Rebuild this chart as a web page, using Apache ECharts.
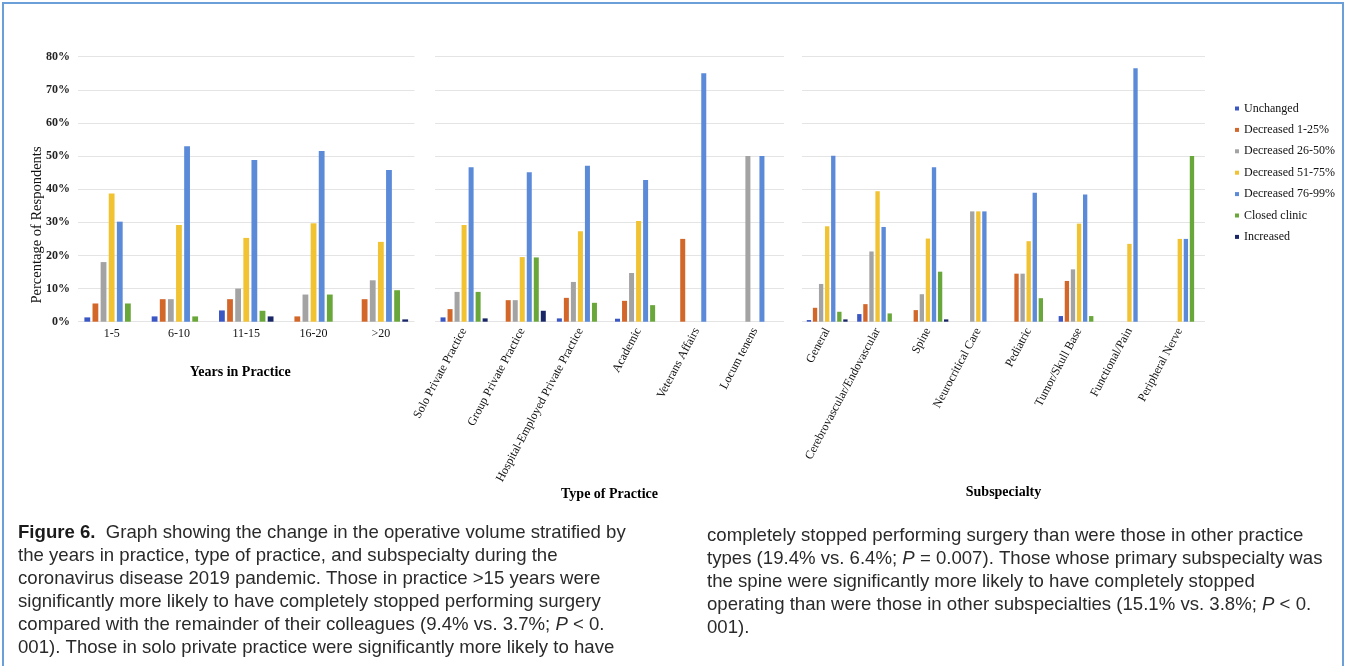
<!DOCTYPE html>
<html>
<head>
<meta charset="utf-8">
<title>Figure 6 – Change in operative volume</title>
<script src="https://cdn.jsdelivr.net/npm/echarts@6/dist/echarts.min.js"></script>
<style>
  html, body { margin: 0; padding: 0; background: #ffffff; }
  #chart { width: 1346px; height: 666px; }
</style>
</head>
<body>
<div id="chart"></div>
<script>
// Response categories (legend order)
const seriesNames = ['Unchanged', 'Decreased 1-25%', 'Decreased 26-50%', 'Decreased 51-75%',
                     'Decreased 76-99%', 'Closed clinic', 'Increased'];
const seriesColors = ['#3a57c4', '#d3672a', '#a3a3a3', '#f1c232', '#5b8ad8', '#6aa73a', '#1a2766'];

// Percentage axis ticks
const yTicks = [0, 10, 20, 30, 40, 50, 60, 70, 80];

// Panel 1: years in practice
const yearsCategories = ['1-5', '6-10', '11-15', '16-20', '>20'];
const yearsUnchanged = [1.3, 1.6, 3.4, 0, 0];
const yearsDec1to25 = [5.5, 6.8, 6.8, 1.6, 6.8];
const yearsDec26to50 = [18.0, 6.8, 10.0, 8.2, 12.5];
const yearsDec51to75 = [38.7, 29.2, 25.3, 29.7, 24.1];
const yearsDec76to99 = [30.2, 53.0, 48.8, 51.5, 45.8];
const yearsClosed = [5.5, 1.6, 3.3, 8.2, 9.5];
const yearsIncreased = [0, 0, 1.6, 0, 0.7];

// Panel 2: type of practice
const practiceCategories = ['Solo Private Practice', 'Group Private Practice',
  'Hospital-Employed Private Practice', 'Academic', 'Veterans Affairs', 'Locum tenens'];
const practiceUnchanged = [1.3, 0, 1.0, 0.9, 0, 0];
const practiceDec1to25 = [3.8, 6.5, 7.2, 6.3, 25.0, 0];
const practiceDec26to50 = [9.0, 6.5, 12.0, 14.7, 0, 50.0];
const practiceDec51to75 = [29.2, 19.5, 27.3, 30.4, 0, 0];
const practiceDec76to99 = [46.6, 45.1, 47.1, 42.8, 75.0, 50.0];
const practiceClosed = [9.0, 19.4, 5.7, 5.0, 0, 0];
const practiceIncreased = [1.0, 3.3, 0, 0, 0, 0];

// Panel 3: subspecialty
const subspecialtyCategories = ['General', 'Cerebrovascular/Endovascular', 'Spine', 'Neurocritical Care',
  'Pediatric', 'Tumor/Skull Base', 'Functional/Pain', 'Peripheral Nerve'];
const subUnchanged = [0.5, 2.3, 0, 0, 0, 1.7, 0, 0];
const subDec1to25 = [4.2, 5.3, 3.5, 0, 14.5, 12.3, 0, 0];
const subDec26to50 = [11.4, 21.2, 8.3, 33.3, 14.5, 15.8, 0, 0];
const subDec51to75 = [28.8, 39.4, 25.1, 33.3, 24.3, 29.6, 23.5, 25.0];
const subDec76to99 = [50.1, 28.6, 46.6, 33.3, 38.9, 38.4, 76.5, 25.0];
const subClosed = [3.0, 2.5, 15.1, 0, 7.1, 1.7, 0, 50.0];
const subIncreased = [0.7, 0, 0.7, 0, 0, 0, 0, 0];

// Caption lines (two columns)
const captionLeft = [
  '{b|Figure 6.}  Graph showing the change in the operative volume stratified by',
  'the years in practice, type of practice, and subspecialty during the',
  'coronavirus disease 2019 pandemic. Those in practice >15 years were',
  'significantly more likely to have completely stopped performing surgery',
  'compared with the remainder of their colleagues (9.4% vs. 3.7%; {i|P} < 0.',
  '001). Those in solo private practice were significantly more likely to have'
];
const captionRight = [
  'completely stopped performing surgery than were those in other practice',
  'types (19.4% vs. 6.4%; {i|P} = 0.007). Those whose primary subspecialty was',
  'the spine were significantly more likely to have completely stopped',
  'operating than were those in other subspecialties (15.1% vs. 3.8%; {i|P} < 0.',
  '001).'
];

const panels = [
  { cats: yearsCategories, title: 'Years in Practice',
    data: [yearsUnchanged, yearsDec1to25, yearsDec26to50, yearsDec51to75, yearsDec76to99, yearsClosed, yearsIncreased] },
  { cats: practiceCategories, title: 'Type of Practice',
    data: [practiceUnchanged, practiceDec1to25, practiceDec26to50, practiceDec51to75, practiceDec76to99, practiceClosed, practiceIncreased] },
  { cats: subspecialtyCategories, title: 'Subspecialty',
    data: [subUnchanged, subDec1to25, subDec26to50, subDec51to75, subDec76to99, subClosed, subIncreased] }
];

const SERIF = '"Liberation Serif", "Times New Roman", serif';
const SANS = '"Liberation Sans", Arial, sans-serif';
const CAPTION_SIZE = 18.6;
const CAPTION_LEADING = 23;

const grids = [
  { left: 78, top: 56.7, width: 336.5, height: 265 },
  { left: 435, top: 56.7, width: 349, height: 265 },
  { left: 802, top: 56.7, width: 403, height: 265 }
];

const xAxes = panels.map((p, i) => ({
  type: 'category',
  gridIndex: i,
  data: p.cats,
  axisLine: { show: false },
  axisTick: { show: false },
  axisLabel: {
    interval: 0,
    rotate: i === 0 ? 0 : 62,
    margin: i === 0 ? 6 : 7,
    fontFamily: SERIF,
    fontSize: 12,
    color: '#111'
  },
  name: p.title,
  nameLocation: 'middle',
  nameGap: i === 0 ? 44 : 164,
  nameTextStyle: {
    fontFamily: SERIF,
    fontSize: 14,
    fontWeight: 'bold',
    color: '#000',
    padding: i === 0 ? [0, 12, 0, 0] : [0, 0, 0, 0]
  }
}));

const yAxes = panels.map((p, i) => ({
  type: 'value',
  gridIndex: i,
  min: yTicks[0],
  max: yTicks[yTicks.length - 1],
  interval: 10,
  axisLine: { show: false },
  axisTick: { show: false },
  axisLabel: {
    show: i === 0,
    formatter: '{value}%',
    margin: 8,
    fontFamily: SERIF,
    fontSize: 12,
    fontWeight: 'bold',
    color: '#222'
  },
  splitLine: { lineStyle: { color: '#e4e4e4', width: 1 } }
}));

const series = [];
panels.forEach((p, pi) => {
  p.data.forEach((vals, si) => {
    series.push({
      type: 'bar',
      name: seriesNames[si],
      xAxisIndex: pi,
      yAxisIndex: pi,
      data: vals,
      barGap: '40%',
      barCategoryGap: '19%',
      itemStyle: { color: seriesColors[si] },
      emphasis: { disabled: true }
    });
  });
});

const captionStyle = (text) => ({
  text: text,
  fontFamily: SANS,
  fontSize: CAPTION_SIZE,
  fill: '#2a2a2a',
  verticalAlign: 'middle',
  rich: {
    b: { fontFamily: SANS, fontSize: CAPTION_SIZE, fontWeight: 'bold', fill: '#1a1a1a' },
    i: { fontFamily: SANS, fontSize: CAPTION_SIZE, fontStyle: 'italic', fill: '#2a2a2a' }
  }
});

const graphics = [
  {
    type: 'rect', silent: true,
    shape: { x: 3, y: 3, width: 1340, height: 720 },
    style: { fill: 'none', stroke: '#6a9fd8', lineWidth: 2 }
  },
  {
    type: 'text', silent: true,
    x: 36.7, y: 225, rotation: Math.PI / 2,
    style: {
      text: 'Percentage of Respondents',
      fontFamily: SERIF, fontSize: 14.5, fill: '#111',
      align: 'center', verticalAlign: 'middle'
    }
  }
];
captionLeft.forEach((line, k) => {
  graphics.push({ type: 'text', silent: true, x: 18, y: 533 + CAPTION_LEADING * k, style: captionStyle(line) });
});
captionRight.forEach((line, k) => {
  graphics.push({ type: 'text', silent: true, x: 707, y: 536 + CAPTION_LEADING * k, style: captionStyle(line) });
});

const chart = echarts.init(document.getElementById('chart'), null, { renderer: 'canvas' });
chart.setOption({
  animation: false,
  backgroundColor: '#ffffff',
  grid: grids,
  xAxis: xAxes,
  yAxis: yAxes,
  legend: {
    data: seriesNames,
    orient: 'vertical',
    left: 1230,
    top: 97.5,
    icon: 'rect',
    itemWidth: 4,
    itemHeight: 4,
    itemGap: 9.4,
    selectedMode: false,
    textStyle: { fontFamily: SERIF, fontSize: 12, color: '#111', lineHeight: 12 }
  },
  series: series,
  graphic: graphics
});
</script>
</body>
</html>
